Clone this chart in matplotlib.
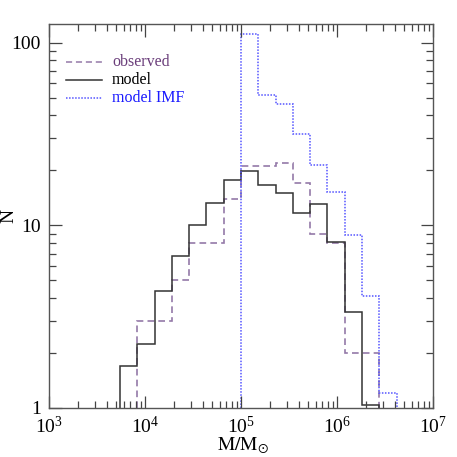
import numpy as np
import matplotlib
matplotlib.use("Agg")
import matplotlib.pyplot as plt
from matplotlib.ticker import LogLocator, NullFormatter, FixedLocator, FixedFormatter

plt.rcParams["font.family"] = ["Liberation Serif", "DejaVu Serif"]
plt.rcParams["mathtext.fontset"] = "stix"

# log10 bin width and start of each histogram (dex)
BIN_W = 0.18
OBS_START   = 3.92
MODEL_START = 3.74
IMF_START   = 5.00

observed  = [3, 3, 5, 8, 8, 14, 21, 21, 22, 17, 9, 8, 2, 2]
model     = [1.7, 2.24, 4.39, 6.82, 10.1, 13.3, 17.6, 19.8, 16.7, 15.0,
             11.7, 13.1, 8.14, 3.36, 1.04]
model_imf = [111, 51.9, 46.3, 31.7, 21.3, 15.2, 8.9, 4.1, 1.21]

labels = ["observed", "model", "model IMF"]

OBS_LINE  = "#9479a8"
OBS_TEXT  = "#6a3d7a"
MOD_LINE  = "#333333"
IMF_LINE  = "#5555ff"
IMF_TEXT  = "#1a1aff"


def edges(start, n):
    return 10 ** (start + BIN_W * np.arange(n + 1))


fig = plt.figure(figsize=(4.57, 4.57), dpi=100)
ax = fig.add_axes([49 / 457, 49 / 457, 384 / 457, 384 / 457])

ax.stairs(observed, edges(OBS_START, len(observed)), baseline=1,
          color=OBS_LINE, lw=1.2, ls=(0, (4, 2.5)))
ax.stairs(model, edges(MODEL_START, len(model)), baseline=1,
          color=MOD_LINE, lw=1.1)
ax.stairs(model_imf, edges(IMF_START, len(model_imf)), baseline=1,
          color=IMF_LINE, lw=1.1, ls=(0, (1, 1)))

ax.set_xscale("log")
ax.set_yscale("log")
ax.set_xlim(1e3, 1e7)
ax.set_ylim(1, 10 ** 2.102)

# ticks
ax.xaxis.set_major_locator(LogLocator(base=10, numticks=10))
ax.xaxis.set_minor_locator(LogLocator(base=10, subs=np.arange(2, 10), numticks=20))
ax.xaxis.set_minor_formatter(NullFormatter())
ax.yaxis.set_major_locator(FixedLocator([1, 10, 100]))
ax.yaxis.set_major_formatter(FixedFormatter(["1", "10", "100"]))
ax.yaxis.set_minor_locator(LogLocator(base=10, subs=np.arange(2, 10), numticks=20))
ax.yaxis.set_minor_formatter(NullFormatter())

ax.tick_params(which="both", direction="in", top=True, right=True,
               color="#444444", width=0.9)
ax.tick_params(which="major", length=9, labelsize=14, pad=6)
ax.tick_params(which="minor", length=5)
for sp in ax.spines.values():
    sp.set_color("#555555")
    sp.set_linewidth(1.0)

# axis titles placed in figure pixels so they stay inside the canvas
fig.text(243 / 457, 1 - 450 / 457, r"$\mathrm{M/M}_{\odot}$", fontsize=14,
         ha="center", va="baseline")
fig.text(9 / 457, 1 - 216 / 457, "N", fontsize=14, rotation=90,
         ha="center", va="center")

# legend drawn by hand, SM-style
leg_styles = [
    (OBS_LINE, (0, (4, 2.5)), OBS_TEXT),
    (MOD_LINE, "-", "black"),
    (IMF_LINE, (0, (1, 1)), IMF_TEXT),
]
for i, (lab, (lc, ls, tc)) in enumerate(zip(labels, leg_styles)):
    y = 1 - (38 + 18 * i) / 384
    ax.plot([17 / 384, 53 / 384], [y, y], transform=ax.transAxes,
            color=lc, ls=ls, lw=1.1)
    ax.text(63 / 384, y, lab, transform=ax.transAxes, color=tc,
            fontsize=11.5, va="center", ha="left")

fig.savefig("out.png", dpi=100)
